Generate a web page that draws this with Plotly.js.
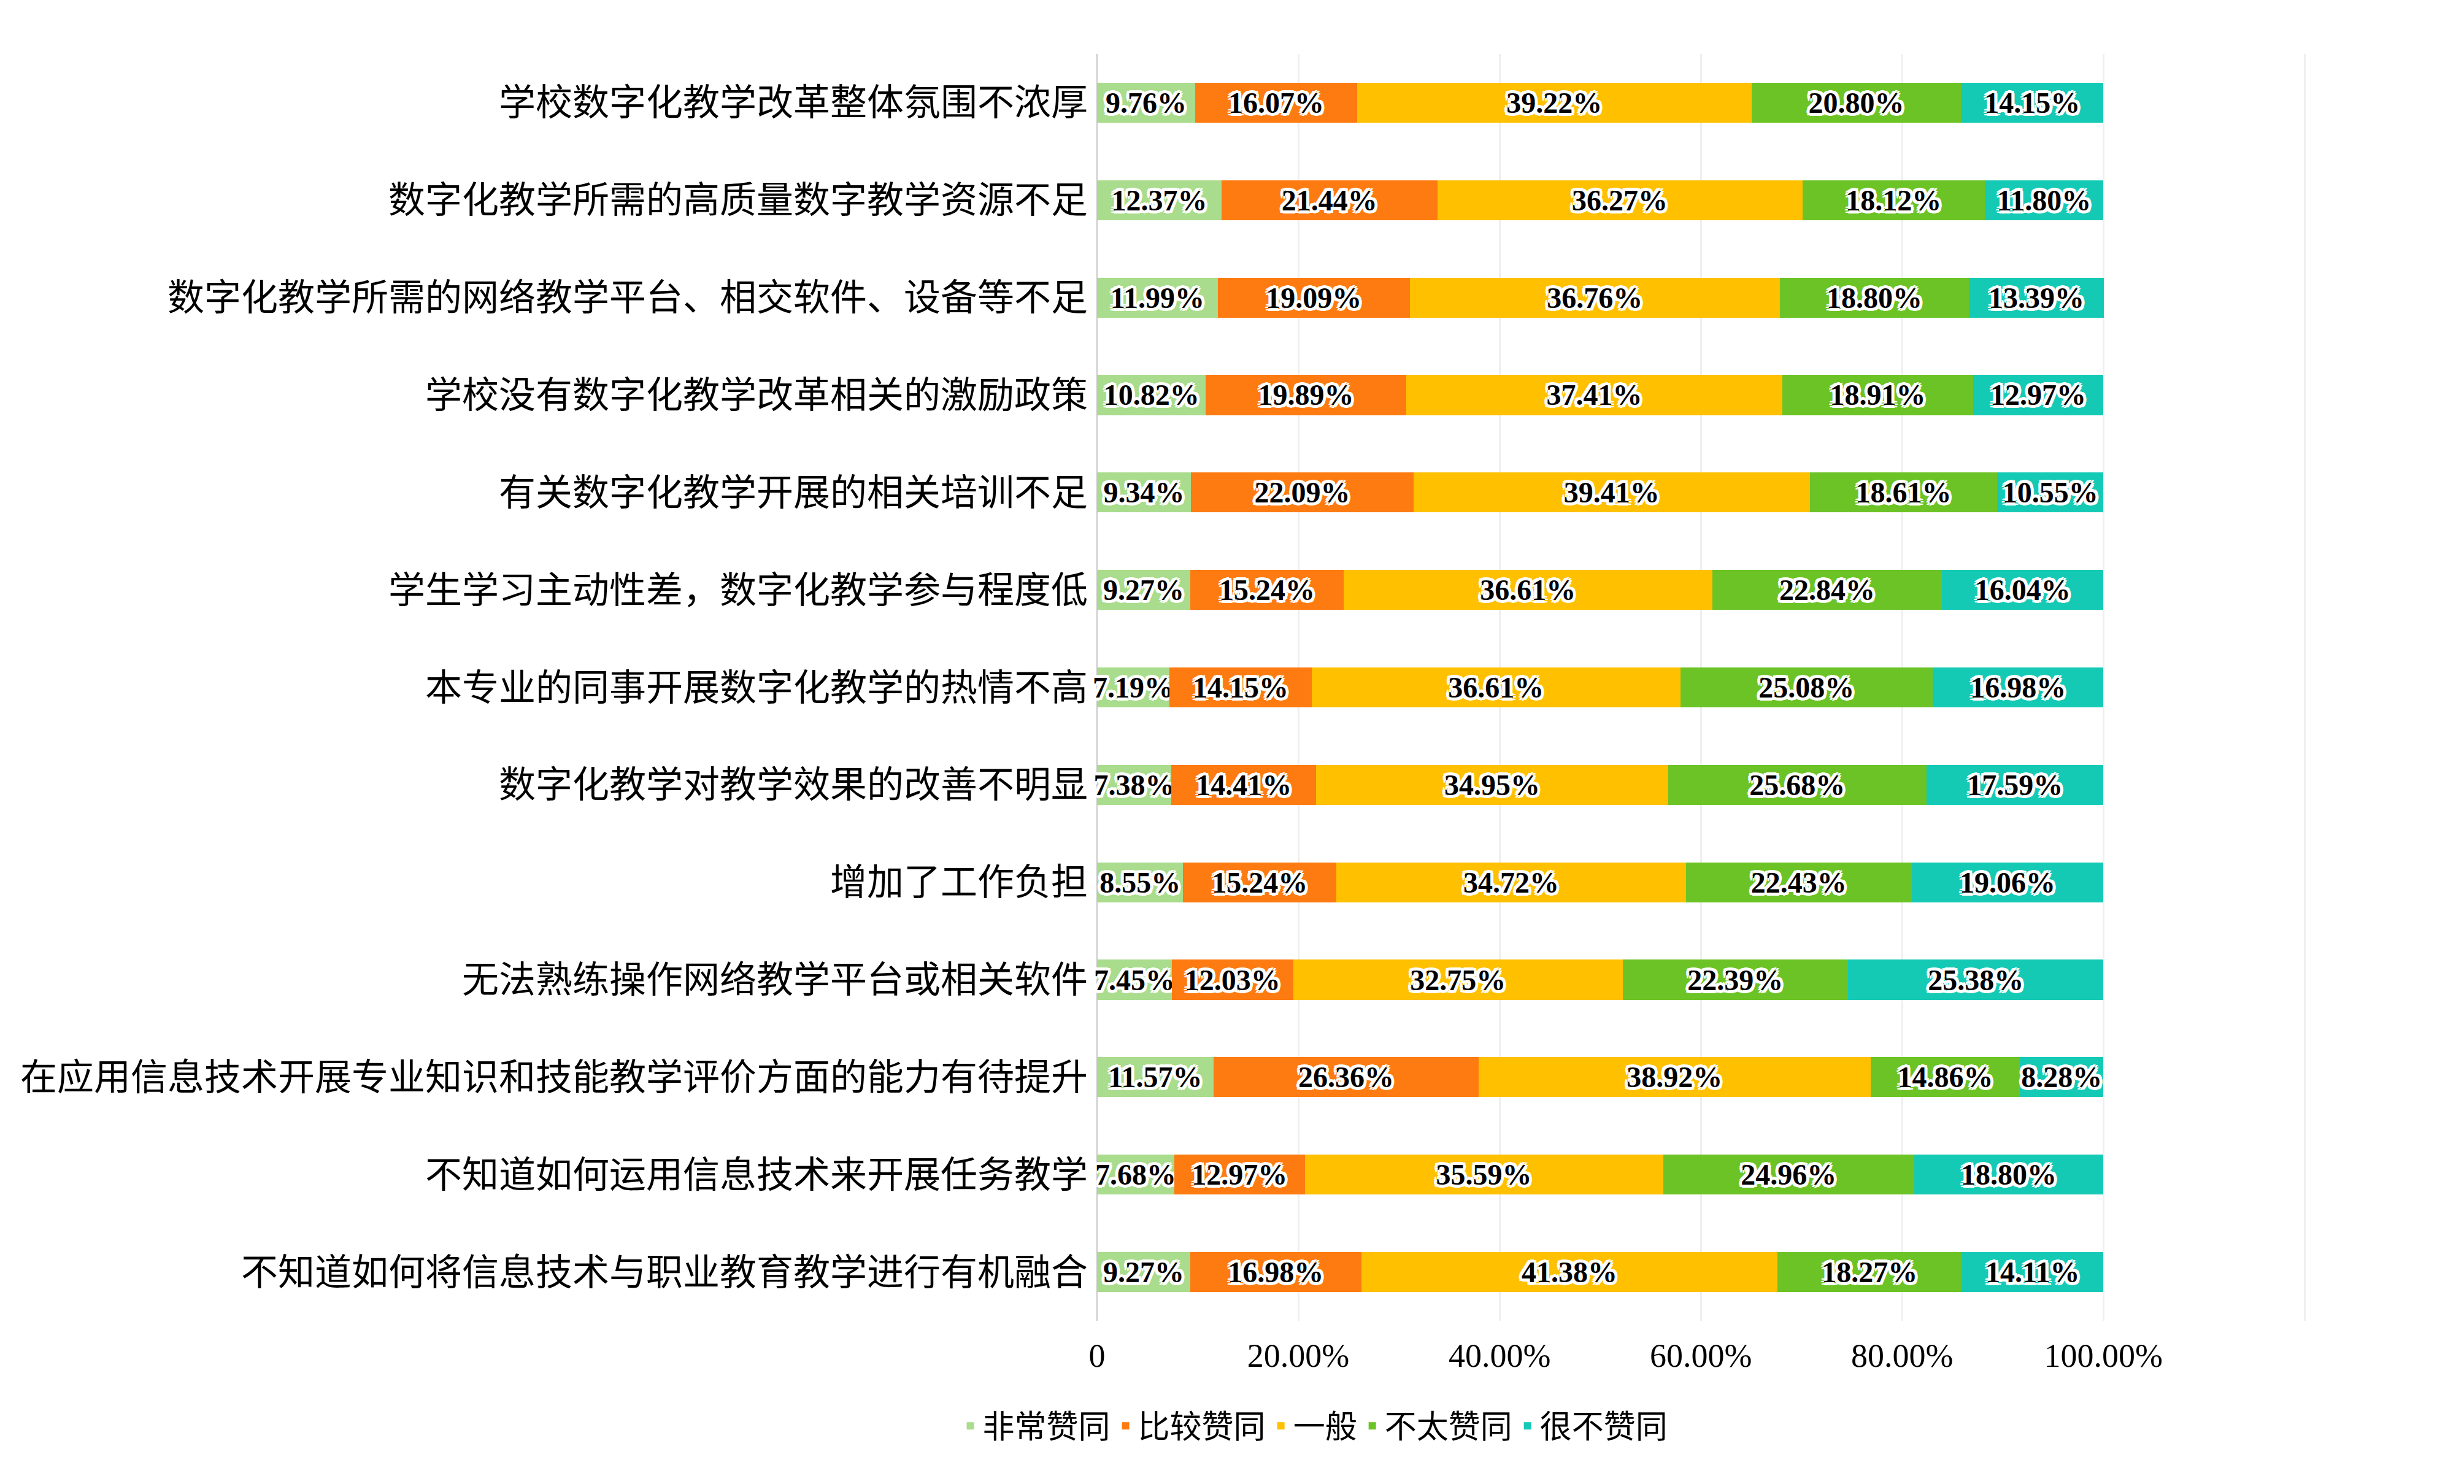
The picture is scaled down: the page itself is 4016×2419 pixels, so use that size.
<!DOCTYPE html>
<html>
<head>
<meta charset="utf-8">
<script src="https://cdn.plot.ly/plotly-3.0.1.min.js"></script>
<style>
  html, body { margin: 0; padding: 0; background: #ffffff; }
  #chart { width: 4016px; height: 2419px; }
</style>
</head>
<body>
<div id="chart"></div>
<script>
// Categories (top to bottom)
const categories = [
  "学校数字化教学改革整体氛围不浓厚",
  "数字化教学所需的高质量数字教学资源不足",
  "数字化教学所需的网络教学平台、相交软件、设备等不足",
  "学校没有数字化教学改革相关的激励政策",
  "有关数字化教学开展的相关培训不足",
  "学生学习主动性差，数字化教学参与程度低",
  "本专业的同事开展数字化教学的热情不高",
  "数字化教学对教学效果的改善不明显",
  "增加了工作负担",
  "无法熟练操作网络教学平台或相关软件",
  "在应用信息技术开展专业知识和技能教学评价方面的能力有待提升",
  "不知道如何运用信息技术来开展任务教学",
  "不知道如何将信息技术与职业教育教学进行有机融合"
];

// Series values (percent)
const veryAgree    = [9.76, 12.37, 11.99, 10.82, 9.34, 9.27, 7.19, 7.38, 8.55, 7.45, 11.57, 7.68, 9.27];
const agree        = [16.07, 21.44, 19.09, 19.89, 22.09, 15.24, 14.15, 14.41, 15.24, 12.03, 26.36, 12.97, 16.98];
const neutral      = [39.22, 36.27, 36.76, 37.41, 39.41, 36.61, 36.61, 34.95, 34.72, 32.75, 38.92, 35.59, 41.38];
const disagree     = [20.80, 18.12, 18.80, 18.91, 18.61, 22.84, 25.08, 25.68, 22.43, 22.39, 14.86, 24.96, 18.27];
const veryDisagree = [14.15, 11.80, 13.39, 12.97, 10.55, 16.04, 16.98, 17.59, 19.06, 25.38, 8.28, 18.80, 14.11];

const seriesNames = ["非常赞同", "比较赞同", "一般", "不太赞同", "很不赞同"];
const seriesData = [veryAgree, agree, neutral, disagree, veryDisagree];
const seriesColors = ["#a9dc8c", "#fd7b10", "#ffc000", "#6cc325", "#15cab5"];

// X tick labels
const xTickVals = [0, 0.2, 0.4, 0.6, 0.8, 1.0, 1.2];
const xTickText = ["0", "20.00%", "40.00%", "60.00%", "80.00%", "100.00%", ""];

const halo = [
  "white 5px 0px 0px", "white -5px 0px 0px", "white 0px 5px 0px", "white 0px -5px 0px",
  "white 4px 4px 0px", "white -4px -4px 0px", "white 4px -4px 0px", "white -4px 4px 0px"
].join(", ");

const traces = seriesNames.map((name, i) => ({
  type: "bar",
  orientation: "h",
  name: name,
  y: categories,
  x: seriesData[i].map(v => v / 100),
  text: seriesData[i].map(v => v.toFixed(2) + "%"),
  textposition: "inside",
  insidetextanchor: "middle",
  constraintext: "none",
  cliponaxis: false,
  textfont: {
    family: "Liberation Serif, Noto Sans CJK SC, serif",
    size: 48,
    color: "#000000",
    weight: "bold",
    shadow: halo
  },
  marker: { color: seriesColors[i], line: { width: 0 } },
  hoverinfo: "skip"
}));

const layout = {
  width: 4016,
  height: 2419,
  barmode: "stack",
  bargap: 0.59,
  paper_bgcolor: "#ffffff",
  plot_bgcolor: "#ffffff",
  margin: { l: 1788, r: 258, t: 88, b: 266, pad: 0 },
  showlegend: true,
  font: { family: "Liberation Serif, Noto Sans CJK SC, serif", color: "#000000" },
  xaxis: {
    range: [0, 1.201],
    tickvals: xTickVals,
    ticktext: xTickText,
    showgrid: true,
    gridcolor: "#efefef",
    gridwidth: 3,
    zeroline: true,
    zerolinecolor: "#d9d9d9",
    zerolinewidth: 4,
    showline: false,
    ticks: "",
    ticklabelstandoff: 20,
    tickfont: { family: "Liberation Serif, serif", size: 54, color: "#000000" },
    fixedrange: true
  },
  yaxis: {
    autorange: "reversed",
    type: "category",
    showgrid: false,
    zeroline: false,
    showline: false,
    ticks: "",
    ticklabelstandoff: 14,
    automargin: false,
    tickfont: { family: "Noto Sans CJK SC, sans-serif", size: 60, color: "#000000" },
    fixedrange: true
  },
  legend: {
    orientation: "h",
    x: 0.18,
    xanchor: "center",
    y: -0.083,
    yanchor: "middle",
    traceorder: "normal",
    font: { family: "Noto Sans CJK SC, sans-serif", size: 52, color: "#000000" },
    itemwidth: 30,
    bgcolor: "rgba(0,0,0,0)"
  }
};

Plotly.newPlot("chart", traces, layout, { displayModeBar: false, staticPlot: true });
</script>
</body>
</html>
